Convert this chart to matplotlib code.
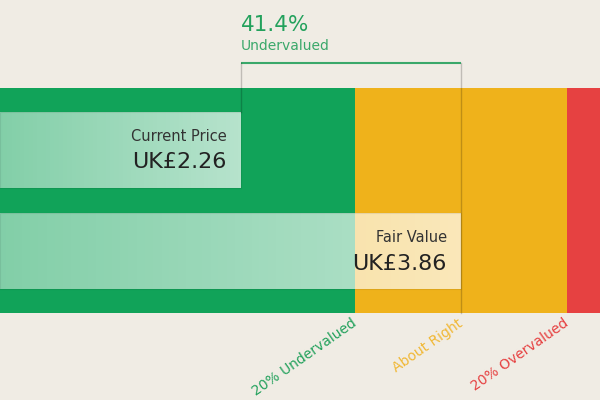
import numpy as np
import matplotlib
matplotlib.use("Agg")
import matplotlib.pyplot as plt

# values
current_price = 2.26
fair_value = 3.86
discount = 41.4  # % shown in the picture
currency = "UK£"
zone_labels = ["20% Undervalued", "About Right", "20% Overvalued"]
zone_bounds = [0.8, 1.2]  # fractions of fair value

bg = "#f0ece4"
green = "#11a359"
orange = "#efb21b"
red = "#e64141"

fig = plt.figure(figsize=(6, 4), dpi=100, facecolor=bg)
ax = fig.add_axes([0, 0.2175, 1, 0.5625])
ax.set_facecolor(bg)

# x range: about 1.75 units of price left of current price, 4.36 units wide
scale = 137.5  # px per currency unit
x0 = current_price - 241 / scale
x1 = x0 + 600 / scale
ax.set_xlim(x0, x1)
ax.set_ylim(0, 1)
ax.axis("off")

lo = zone_bounds[0] * fair_value
hi = zone_bounds[1] * fair_value
ax.axvspan(x0, lo, color=green, lw=0)
ax.axvspan(lo, hi, color=orange, lw=0)
ax.axvspan(hi, x1, color=red, lw=0)

# bars with white gradient
grad = np.zeros((1, 256, 4))
grad[..., :3] = 1.0
grad[..., 3] = np.linspace(0.48, 0.7, 256)

ypos = [0.725, 0.275]
vals = [current_price, fair_value]
names = ["Current Price", "Fair Value"]
bars = ax.barh(ypos, [v - x0 for v in vals], left=x0, height=0.335,
               color="none", edgecolor=(0, 0, 0, 0.07), lw=0.8)
for b, v in zip(bars, vals):
    im = ax.imshow(grad, extent=[x0, v, b.get_y(), b.get_y() + b.get_height()],
                   aspect="auto", zorder=2)
    im.set_clip_path(b)
    b.set_zorder(3)

pad = 14 / scale
for y, v, n in zip(ypos, vals, names):
    ax.text(v - pad, y + 0.06, n, ha="right", va="center", fontsize=10.5,
            color="#333333", zorder=4)
    ax.text(v - pad, y - 0.055, f"{currency}{v:.2f}", ha="right", va="center",
            fontsize=16, color="#222222", zorder=4)

# bracket
by = 1.111
ax.plot([current_price, fair_value], [by, by], color="#3aa86a", lw=1.5,
        clip_on=False, solid_capstyle="butt")
ax.plot([current_price, current_price], [by, ypos[0] + 0.1675],
        color=(0, 0, 0, 0.2), lw=1, clip_on=False)
ax.plot([fair_value, fair_value], [by, 0], color=(0, 0, 0, 0.2), lw=1,
        clip_on=False, zorder=5)
ax.text(current_price, 1.28, f"{discount:.1f}%", ha="left", va="center",
        fontsize=15.5, color="#23a15c")
ax.text(current_price, 1.187, "Undervalued", ha="left", va="center",
        fontsize=10, color="#3aa86a")

# zone labels
shift = 4 / scale
for x, lab, c in zip([lo, fair_value, hi], zone_labels,
                     ["#23a15c", "#f0b836", red]):
    ax.text(x - shift, -0.015, lab, ha="right", va="top", rotation=35,
            rotation_mode="anchor", fontsize=10, color=c, clip_on=False)

fig.savefig("out.png", dpi=100, facecolor=bg)
